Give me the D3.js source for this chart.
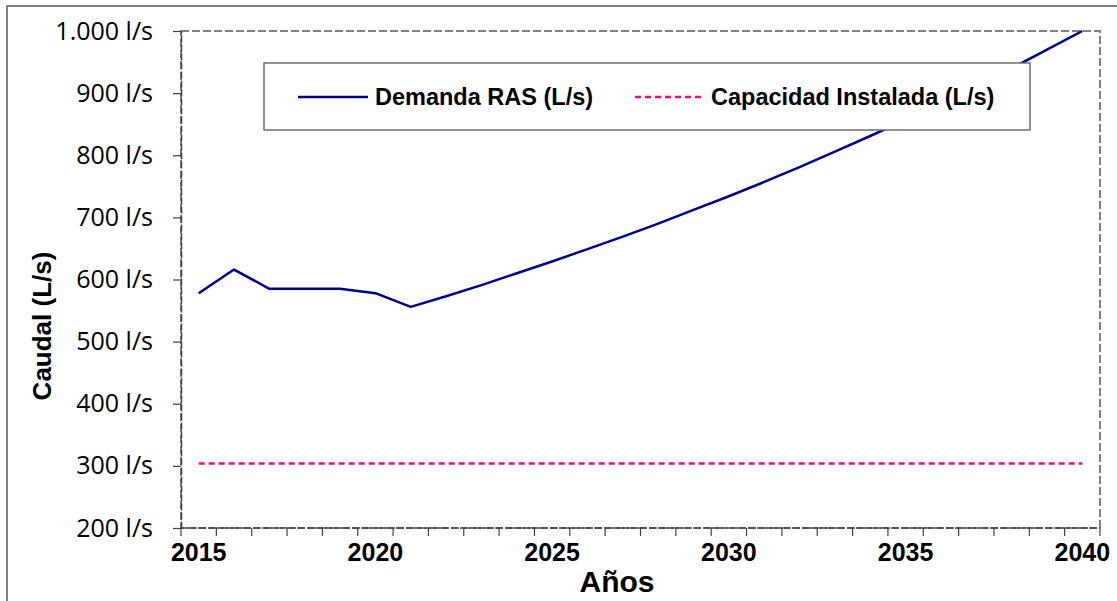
<!DOCTYPE html>
<html>
<head>
<meta charset="utf-8">
<script src="https://cdn.jsdelivr.net/npm/d3@7"></script>
<style>
  body { margin: 0; background: #fff; }
  svg { display: block; }
</style>
</head>
<body>
<div id="chart"></div>
<script>
    // años del periodo de diseño
    var years = [2015, 2016, 2017, 2018, 2019, 2020, 2021, 2022, 2023, 2024, 2025, 2026, 2027,
        2028, 2029, 2030, 2031, 2032, 2033, 2034, 2035, 2036, 2037, 2038, 2039, 2040];

    // demanda RAS (L/s)
    var demanda = [578, 616, 585, 585, 585, 578, 556, 573, 591, 610, 629, 649, 669,
        690, 712, 734, 757, 781, 806, 831, 857, 884, 912, 940, 970, 1000];

    // capacidad instalada (L/s)
    var capacidad = [304, 304, 304, 304, 304, 304, 304, 304, 304, 304, 304, 304, 304,
        304, 304, 304, 304, 304, 304, 304, 304, 304, 304, 304, 304, 304];

    var yTicks = [200, 300, 400, 500, 600, 700, 800, 900, 1000];
    var xLabelYears = [2015, 2020, 2025, 2030, 2035, 2040];
    var seriesNames = ['Demanda RAS (L/s)', 'Capacidad Instalada (L/s)'];

    var totalWidth = 1117;
    var totalHeight = 601;
    var margin = { top: 31, right: 17, bottom: 73, left: 181 };
    var width = totalWidth - margin.left - margin.right;
    var height = totalHeight - margin.top - margin.bottom;

    var svg = d3.select('#chart').append('svg')
        .attr('width', totalWidth)
        .attr('height', totalHeight);

    // borde exterior del grafico
    svg.append('rect')
        .attr('x', 7).attr('y', 6)
        .attr('width', totalWidth + 20).attr('height', totalHeight + 20)
        .attr('fill', '#fff')
        .attr('stroke', '#555').attr('stroke-width', 1.5);

    var svgGroup = svg.append('g')
        .attr('transform', 'translate(' + margin.left + ',' + margin.top + ')');

    var xScaleBand = d3.scaleBand()
        .domain(years)
        .range([0, width])
        .padding(0);

    var yScale = d3.scaleLinear()
        .domain([200, 1000])
        .range([height, 0]);

    var xCenter = function(d) { return xScaleBand(d) + xScaleBand.bandwidth() / 2; };

    // area de trazado (borde punteado)
    svgGroup.append('rect')
        .attr('width', width).attr('height', height)
        .attr('fill', 'none')
        .attr('stroke', '#808080').attr('stroke-width', 2)
        .attr('stroke-dasharray', '8,3');

    // eje Y
    var yAxis = d3.axisLeft(yScale)
        .tickValues(yTicks)
        .tickSizeInner(8).tickSizeOuter(0)
        .tickPadding(20)
        .tickFormat(function(d) {
            return d3.format(',')(d).replace(/,/g, '.') + ' l/s';
        });

    var yAxisGroup = svgGroup.append('g').call(yAxis);
    yAxisGroup.select('.domain')
        .attr('stroke', '#404040').attr('stroke-width', 1.5).attr('stroke-dasharray', '7,2');
    yAxisGroup.selectAll('line').attr('stroke', '#404040').attr('stroke-width', 1.2);
    yAxisGroup.selectAll('text')
        .attr('fill', '#000')
        .attr('font-family', '"Open Sans", sans-serif')
        .attr('font-size', 25);

    // eje X: marcas entre categorias
    var xAxisGroup = svgGroup.append('g').attr('transform', 'translate(0,' + height + ')');
    xAxisGroup.append('line')
        .attr('x1', 0).attr('x2', width)
        .attr('stroke', '#404040').attr('stroke-width', 1.5).attr('stroke-dasharray', '7,2');
    var boundaries = years.map(function(d) { return xScaleBand(d); }).concat([width]);
    xAxisGroup.selectAll('line.tick')
        .data(boundaries)
        .enter()
        .append('line')
        .attr('class', 'tick')
        .attr('x1', d => d).attr('x2', d => d)
        .attr('y1', 0).attr('y2', 8)
        .attr('stroke', '#404040').attr('stroke-width', 1.2);
    xAxisGroup.selectAll('text')
        .data(xLabelYears)
        .enter()
        .append('text')
        .attr('x', d => xCenter(d))
        .attr('y', 33)
        .attr('text-anchor', 'middle')
        .attr('font-family', '"Liberation Sans", Arial, sans-serif')
        .attr('font-weight', 'bold')
        .attr('font-size', 25)
        .text(d => d);

    // titulos de ejes
    svg.append('text')
        .attr('x', 617).attr('y', 592)
        .attr('text-anchor', 'middle')
        .attr('font-family', '"Liberation Sans", Arial, sans-serif')
        .attr('font-weight', 'bold')
        .attr('font-size', 30)
        .text('Años');

    svg.append('text')
        .attr('transform', 'translate(51,326) rotate(-90)')
        .attr('text-anchor', 'middle')
        .attr('font-family', '"Liberation Sans", Arial, sans-serif')
        .attr('font-weight', 'bold')
        .attr('font-size', 26)
        .text('Caudal (L/s)');

    // series
    var line = d3.line()
        .x(function(d, i) { return xCenter(years[i]); })
        .y(function(d) { return yScale(d); });

    svgGroup.append('path')
        .datum(capacidad)
        .attr('d', line)
        .attr('fill', 'none')
        .attr('stroke', '#FF0080').attr('stroke-width', 2.5)
        .attr('stroke-dasharray', '6,4');

    svgGroup.append('path')
        .datum(demanda)
        .attr('d', line)
        .attr('fill', 'none')
        .attr('stroke', '#000090').attr('stroke-width', 2.5)
        .attr('stroke-linejoin', 'round');

    // leyenda
    var legend = svg.append('g');
    legend.append('rect')
        .attr('x', 264).attr('y', 63)
        .attr('width', 766).attr('height', 67)
        .attr('fill', '#fff')
        .attr('stroke', '#6e6e6e').attr('stroke-width', 1.5);

    var legendItems = [
        { name: seriesNames[0], x1: 298, x2: 368, color: '#000090', dash: null },
        { name: seriesNames[1], x1: 635, x2: 704, color: '#FF0080', dash: '6,4' }
    ];
    legendItems.forEach(function(item) {
        legend.append('line')
            .attr('x1', item.x1).attr('x2', item.x2)
            .attr('y1', 97).attr('y2', 97)
            .attr('stroke', item.color).attr('stroke-width', 2.5)
            .attr('stroke-dasharray', item.dash);
        legend.append('text')
            .attr('x', item.x2 + 7).attr('y', 105)
            .attr('font-family', '"Liberation Sans", Arial, sans-serif')
            .attr('font-weight', 'bold')
            .attr('font-size', 23.5)
            .text(item.name);
    });
</script>
</body>
</html>
